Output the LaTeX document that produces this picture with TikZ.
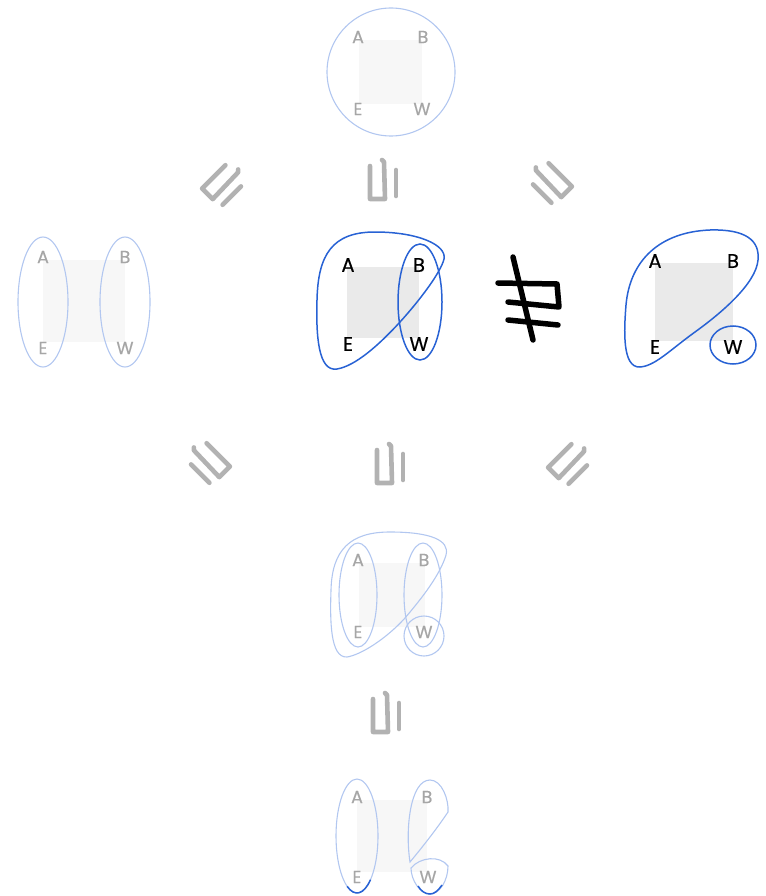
\documentclass[tikz,border=0pt]{standalone}
\usepackage{fontspec}
\setmainfont{Poppins}[FakeBold=0.4]
\definecolor{lblue}{RGB}{178,199,240}
\definecolor{dblue}{RGB}{40,98,212}
\definecolor{lgrey}{RGB}{166,166,166}
\definecolor{sqlight}{RGB}{247,247,247}
\definecolor{sqdark}{RGB}{234,234,234}
\definecolor{symgrey}{RGB}{178,178,178}
\tikzset{
  faint/.style={draw=lblue, line width=1.1pt},
  strong/.style={draw=dblue, line width=1.5pt},
  fsq/.style={fill=sqlight, draw=none},
  dsq/.style={fill=sqdark, draw=none},
  flabel/.style={text=lgrey, font=\fontsize{17.5}{17.5}\selectfont, inner sep=0pt},
  dlabel/.style={text=black, font=\fontsize{19.5}{19.5}\selectfont, inner sep=0pt},
  symline/.style={draw=symgrey, line width=4.6pt, line cap=round, line join=round},
  handline/.style={draw=black, line width=5.5pt, line cap=round, line join=round},
  relsym/.pic={
    \draw[symline] (-13,-15) -- (-13,18) -- (2,18) -- (1,-19) -- (-1,-21);
    \draw[symline] (13,-11) -- (13,15);
  }
}
\begin{document}
\begin{tikzpicture}[x=1pt,y=-1pt]
\useasboundingbox (0,0) rectangle (765,896);

% ---------- top structure ----------
\fill[fsq] (359,40) rectangle (422,104);
\draw[faint] (391,72) circle[radius=64];
\node[flabel] (tA) at (358,37) {A};
\node[flabel] (tB) at (423,37) {B};
\node[flabel] (tE) at (358,109) {E};
\node[flabel] (tW) at (422,109) {W};

% ---------- relation symbols row 1 ----------
\pic[rotate=-45] at (224,185) {relsym};
\pic at (383,181) {relsym};
\pic[rotate=45, xscale=-1] at (550,183) {relsym};

% ---------- left structure ----------
\fill[fsq] (43,260) rectangle (125,342);
\draw[faint] (43,302) ellipse[x radius=25, y radius=65];
\draw[faint] (125,302) ellipse[x radius=25, y radius=65];
\node[flabel] (lA) at (43,257) {A};
\node[flabel] (lB) at (125,257) {B};
\node[flabel] (lE) at (43,348) {E};
\node[flabel] (lW) at (125,348) {W};

% ---------- middle structure ----------
\fill[dsq] (347,267) rectangle (419,338);
\draw[strong] (337,369) .. controls (318,372) and (316,335) .. (317,300)
  .. controls (318,255) and (332,232) .. (375,232)
  .. controls (418,232) and (447,245) .. (444,259)
  .. controls (441,272) and (420,300) .. (400,322)
  .. controls (378,346) and (355,366) .. (337,369) -- cycle;
\draw[strong] (420,302) ellipse[x radius=22, y radius=58];
\node[dlabel] (mA) at (348,265) {A};
\node[dlabel] (mB) at (419,265) {B};
\node[dlabel] (mE) at (348,344) {E};
\node[dlabel] (mW) at (419,344) {W};

% ---------- not-equal symbol ----------
\draw[handline] (498,283) -- (557,284) -- (559,307) -- (508,302);
\draw[handline] (508,320) -- (558,325);
\draw[handline] (513,257) -- (533,340);

% ---------- right structure ----------
\fill[dsq] (655,263) rectangle (733,341);
\draw[strong] (640,367) .. controls (622,368) and (624,330) .. (626,305)
  .. controls (630,260) and (660,232) .. (710,230)
  .. controls (745,229) and (760,240) .. (758,260)
  .. controls (756,284) and (720,314) .. (695,332)
  .. controls (670,350) and (655,366) .. (640,367) -- cycle;
\draw[strong] (733,345) ellipse[x radius=23, y radius=19];
\node[dlabel] (rA) at (655,261) {A};
\node[dlabel] (rB) at (733,261) {B};
\node[dlabel] (rE) at (655,347) {E};
\node[dlabel] (rW) at (733,347) {W};

% ---------- relation symbols row 2 ----------
\pic[rotate=45, xscale=-1] at (208,463) {relsym};
\pic at (390,465) {relsym};
\pic[rotate=-45] at (570,464) {relsym};

% ---------- lower middle structure ----------
\fill[fsq] (359,563) rectangle (425,627);
\draw[faint] (347,657) .. controls (330,658) and (330,620) .. (331,590)
  .. controls (332,550) and (350,532) .. (390,532)
  .. controls (430,532) and (450,540) .. (446,555)
  .. controls (440,575) and (422,598) .. (405,618)
  .. controls (385,640) and (360,655) .. (347,657) -- cycle;
\draw[faint] (358,595) ellipse[x radius=19, y radius=52];
\draw[faint] (423,595) ellipse[x radius=19, y radius=52];
\draw[faint] (424,636) circle[radius=20];
\node[flabel] (bA) at (358,560) {A};
\node[flabel] (bB) at (424,560) {B};
\node[flabel] (bE) at (358,632) {E};
\node[flabel] (bW) at (424,632) {W};

% ---------- relation symbol row 3 ----------
\pic at (386,714) {relsym};

% ---------- bottom structure ----------
\fill[fsq] (357,800) rectangle (427,872);
\draw[faint] (357,836) ellipse[x radius=21, y radius=57];
\draw[strong] ([shift={(50:21 and 57)}]357,836) arc[start angle=50, end angle=118, x radius=21, y radius=57];
\draw[faint] (410,862) .. controls (405,830) and (410,780) .. (430,780)
  .. controls (442,780) and (449,800) .. (448,812)
  .. controls (436,830) and (420,850) .. (410,862) -- cycle;
\draw[faint] (411,868) .. controls (420,857) and (440,855) .. (448,866)
  .. controls (448,880) and (440,894) .. (430,894)
  .. controls (420,894) and (411,880) .. (411,868) -- cycle;
\draw[strong] (442,885) .. controls (438,891) and (434,894) .. (430,894)
  .. controls (425,894) and (421,891) .. (418,886);
\node[flabel] (zA) at (357,797) {A};
\node[flabel] (zB) at (427,797) {B};
\node[flabel] (zE) at (357,877) {E};
\node[flabel] (zW) at (428,877) {W};
\end{tikzpicture}
\end{document}
